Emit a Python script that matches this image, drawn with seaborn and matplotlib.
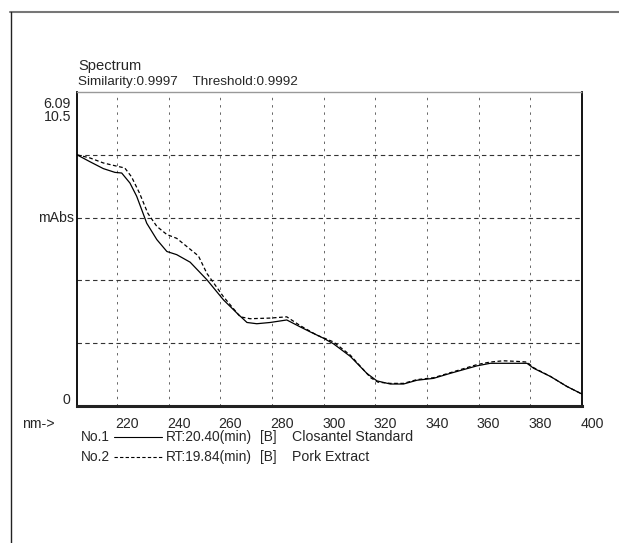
import matplotlib
matplotlib.use("Agg")
import matplotlib.pyplot as plt
import matplotlib.transforms as mtransforms
from matplotlib.lines import Line2D
import numpy as np
import pandas as pd
import seaborn as sns

# ---- data (wavelength nm, absorbance in grid units) ----
nm_std = [204.5, 209.5, 214.7, 219.2, 221.8, 225.0, 227.6, 229.6, 231.5, 235.4, 239.3, 243.1,
          248.3, 254.8, 261.2, 266.4, 270.3, 274.1, 279.3, 285.7, 290.9, 294.8, 299.9, 303.8,
          310.3, 316.7, 320.6, 325.8, 330.9, 336.1, 342.5, 349.0, 359.4, 364.5, 372.3, 378.7,
          381.3, 387.8, 394.2, 400.0]
val_std = [4.00, 3.89, 3.78, 3.72, 3.71, 3.55, 3.34, 3.12, 2.91, 2.65, 2.46, 2.41,
           2.29, 2.01, 1.69, 1.48, 1.33, 1.31, 1.33, 1.37, 1.26, 1.18, 1.08, 0.99,
           0.79, 0.52, 0.40, 0.35, 0.35, 0.41, 0.44, 0.52, 0.64, 0.68, 0.68, 0.68,
           0.60, 0.47, 0.31, 0.19]

nm_pork = [204.5, 209.5, 214.7, 219.8, 223.0, 225.6, 228.7, 231.9, 235.4, 239.3, 243.1, 247.0,
           251.5, 254.8, 261.2, 267.7, 271.5, 279.3, 285.7, 290.9, 297.3, 303.8, 310.3, 318.2,
           321.0, 325.8, 330.9, 336.1, 342.5, 349.0, 359.4, 364.5, 369.5, 375.0, 378.7, 381.3,
           387.8, 394.2, 400.0]
val_pork = [4.00, 3.95, 3.87, 3.82, 3.79, 3.65, 3.39, 3.07, 2.86, 2.73, 2.67, 2.54,
            2.39, 2.11, 1.74, 1.42, 1.39, 1.40, 1.42, 1.28, 1.13, 1.02, 0.81, 0.45,
            0.38, 0.36, 0.36, 0.42, 0.45, 0.53, 0.66, 0.70, 0.72, 0.71, 0.70, 0.61,
            0.47, 0.31, 0.19]

x_ticks = [220, 240, 260, 280, 300, 320, 340, 360, 380, 400]
y_grid = [1, 2, 3, 4]
title = "Spectrum"
subtitle = "Similarity:0.9997    Threshold:0.9992"
legend_rows = [("No.1", "RT:20.40(min)", "[B]", "Closantel Standard"),
               ("No.2", "RT:19.84(min)", "[B]", "Pork Extract")]

df = pd.DataFrame({
    "nm": nm_std + nm_pork,
    "val": val_std + val_pork,
    "sample": ["No.1"] * len(nm_std) + ["No.2"] * len(nm_pork),
})

sns.set_theme(style="white")
plt.rcParams["font.family"] = ["Liberation Sans", "DejaVu Sans"]

W, H = 619, 543
fig = plt.figure(figsize=(W / 100, H / 100), dpi=100)
ax = fig.add_axes([77 / W, 1 - 406 / H, (582 - 77) / W, (406 - 92) / H])

# grid lines
for xv in x_ticks[:-1]:
    ax.axvline(xv, color="#666666", lw=0.7, ls=(0, (2.5, 5)), zorder=1)
for yv in y_grid:
    ax.axhline(yv, color="#333333", lw=0.8, ls=(0, (4, 3)), zorder=1)

sns.lineplot(data=df, x="nm", y="val", style="sample",
             dashes={"No.1": "", "No.2": (3, 2)}, color="black",
             lw=0.9, legend=False, ax=ax, sort=False, zorder=3)

ax.set_xlim(204.5, 400)
ax.set_ylim(0, 5)
ax.set_xlabel("")
ax.set_ylabel("")
ax.set_yticks([])
ax.set_xticks(x_ticks)
ax.set_xticklabels([str(v) for v in x_ticks], fontsize=10.2)
ax.tick_params(axis="x", direction="in", length=3, width=0.8, color="black", pad=8)
offset = mtransforms.ScaledTranslation(10 / 100, 0, fig.dpi_scale_trans)
for lab in ax.get_xticklabels():
    lab.set_transform(lab.get_transform() + offset)

for side in ["left", "right"]:
    ax.spines[side].set_color("black")
    ax.spines[side].set_linewidth(1.3)
ax.spines["bottom"].set_color("#222222")
ax.spines["bottom"].set_linewidth(2.2)
ax.spines["top"].set_color("#999999")
ax.spines["top"].set_linewidth(1.0)
ax.spines["top"].set_linestyle((0, (1, 1)))

# y labels
ax.text(-0.014, 0.019, "0", transform=ax.transAxes, ha="right", va="center", fontsize=10.2)
ax.text(-0.006, 3.0, "mAbs", transform=ax.get_yaxis_transform(), ha="right", va="center",
        fontsize=10.2)
ax.text(-0.012, 0.985, "6.09\n10.5", transform=ax.transAxes, ha="right", va="top",
        fontsize=10.2, linespacing=0.98)
ax.text(38 / W, 1 - 424 / H, "nm->", transform=fig.transFigure, ha="center", va="center",
        fontsize=10.2)

# titles
fig.text(78 / W, 1 - 66 / H, title, ha="left", va="center", fontsize=10.6)
fig.text(78 / W, 1 - 82 / H, subtitle, ha="left", va="center", fontsize=9.7)

# legend rows
ys = [437, 457]
for (no, rt, b, name), yy, ls in zip(legend_rows, ys, ["-", (0, (3, 2))]):
    yf = 1 - yy / H
    fig.text(81 / W, yf, no, ha="left", va="center", fontsize=9.9)
    fig.add_artist(Line2D([114 / W, 162 / W], [yf, yf], color="black", lw=0.8, ls=ls,
                          transform=fig.transFigure))
    fig.text(166 / W, yf, rt, ha="left", va="center", fontsize=9.9)
    fig.text(260 / W, yf, b, ha="left", va="center", fontsize=9.9)
    fig.text(292 / W, yf, name, ha="left", va="center", fontsize=10.2)

# outer frame (top and left)
fig.add_artist(Line2D([10 / W, 1.0], [1 - 12 / H, 1 - 12 / H], color="#777777", lw=1.5,
                      transform=fig.transFigure))
fig.add_artist(Line2D([10.5 / W, 10.5 / W], [0, 1 - 12 / H], color="#222222", lw=1.0,
                      transform=fig.transFigure))

fig.savefig("out.png", dpi=100)
